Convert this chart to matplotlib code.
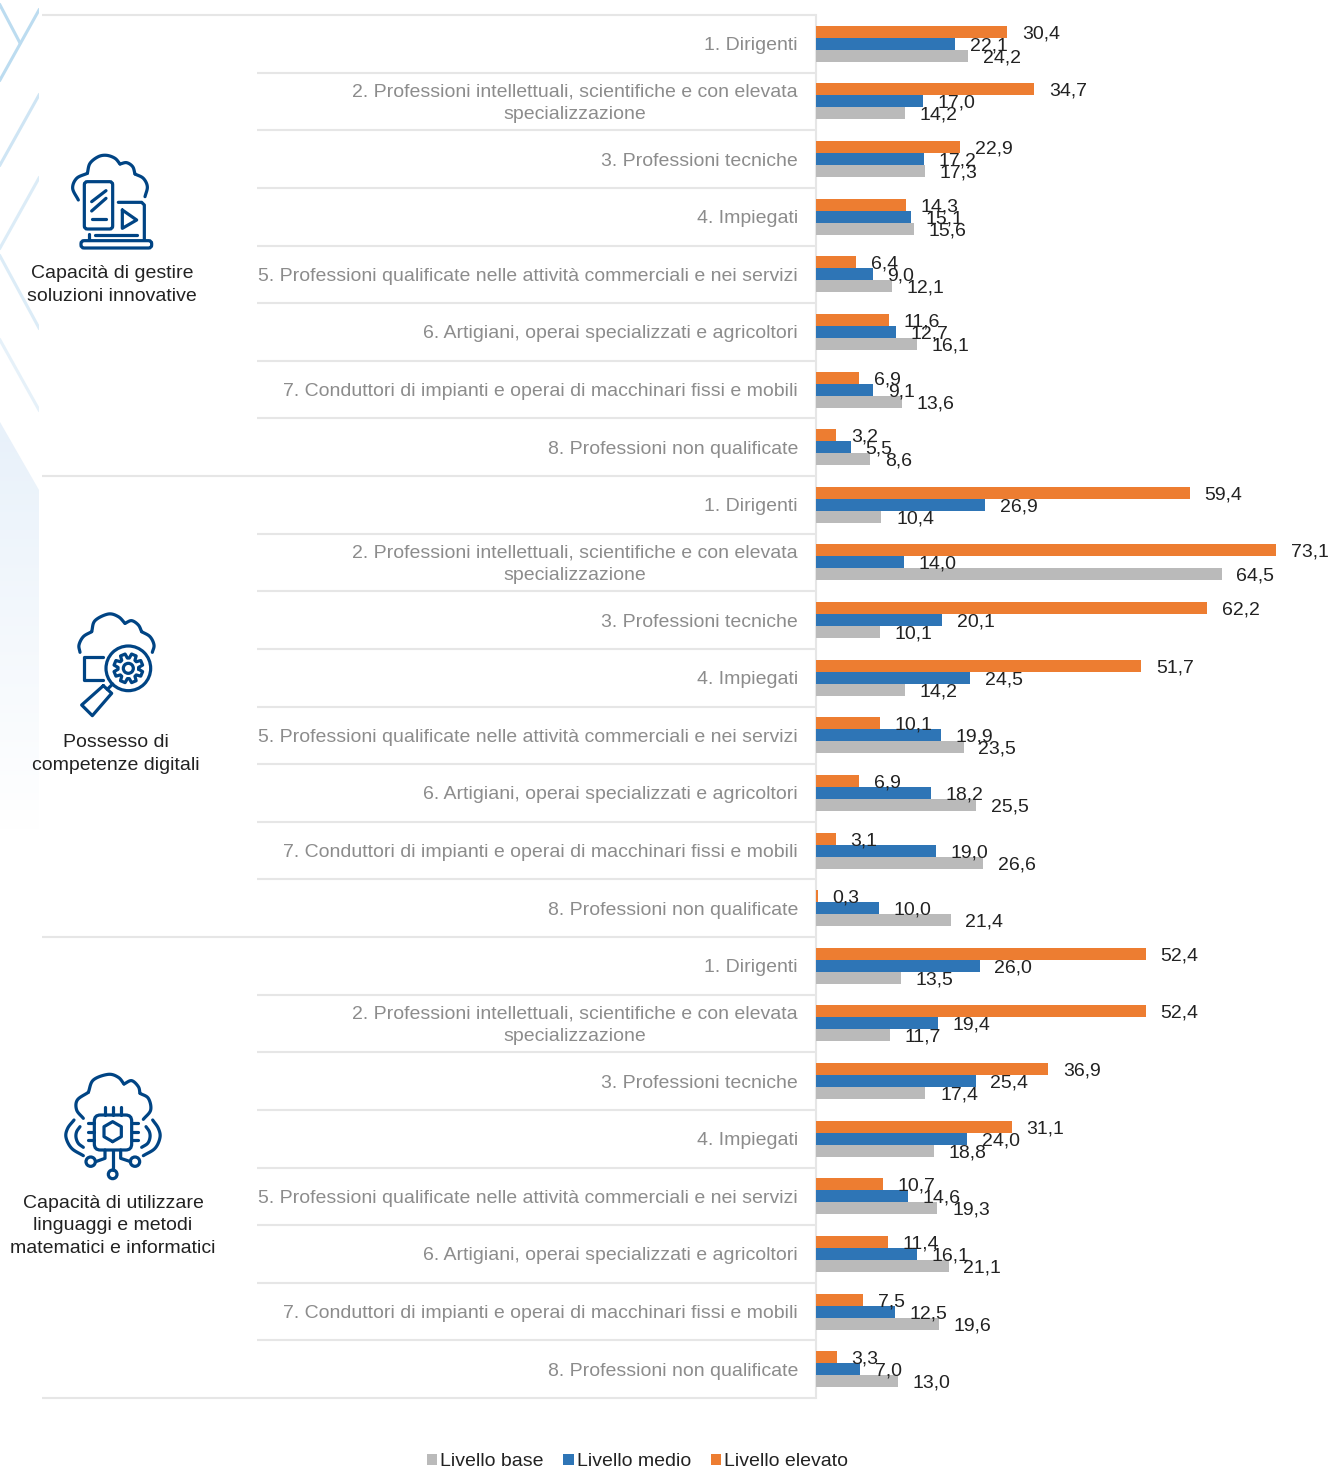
import numpy as np
import matplotlib
matplotlib.use('Agg')
import matplotlib.pyplot as plt
from matplotlib.patches import Circle, FancyBboxPatch, Polygon, Rectangle

plt.rcParams['font.family'] = ['Liberation Sans', 'DejaVu Sans']

jobs = ['1. Dirigenti',
        '2. Professioni intellettuali, scientifiche e con elevata\nspecializzazione',
        '3. Professioni tecniche',
        '4. Impiegati',
        '5. Professioni qualificate nelle attività commerciali e nei servizi',
        '6. Artigiani, operai specializzati e agricoltori',
        '7. Conduttori di impianti e operai di macchinari fissi e mobili',
        '8. Professioni non qualificate']
groups = ['Capacità di gestire\nsoluzioni innovative',
          'Possesso di\ncompetenze digitali',
          'Capacità di utilizzare\nlinguaggi e metodi\nmatematici e informatici']
levels = ['Livello base', 'Livello medio', 'Livello elevato']

elevato = [30.4, 34.7, 22.9, 14.3, 6.4, 11.6, 6.9, 3.2,
           59.4, 73.1, 62.2, 51.7, 10.1, 6.9, 3.1, 0.3,
           52.4, 52.4, 36.9, 31.1, 10.7, 11.4, 7.5, 3.3]
medio = [22.1, 17.0, 17.2, 15.1, 9.0, 12.7, 9.1, 5.5,
         26.9, 14.0, 20.1, 24.5, 19.9, 18.2, 19.0, 10.0,
         26.0, 19.4, 25.4, 24.0, 14.6, 16.1, 12.5, 7.0]
base = [24.2, 14.2, 17.3, 15.6, 12.1, 16.1, 13.6, 8.6,
        10.4, 64.5, 10.1, 14.2, 23.5, 25.5, 26.6, 21.4,
        13.5, 11.7, 17.4, 18.8, 19.3, 21.1, 19.6, 13.0]

ORANGE = '#ed7d31'
BLUE = '#2e75b6'
GREY = '#bababa'
LINE = '#e6e6e6'
ICON = '#004484'
W, H = 1330, 1468
TOP, BOTTOM, ZERO = 15, 1398, 816
PX_PER_UNIT = 6.293
FS = 14.0

fig = plt.figure(figsize=(W / 100, H / 100), dpi=100, facecolor='white')

# pixel overlay for decoration, row lines, icons
bg = fig.add_axes([0, 0, 1, 1], zorder=1)
bg.set_xlim(0, W)
bg.set_ylim(H, 0)
bg.axis('off')

# bars
ax = fig.add_axes([ZERO / W, 1 - BOTTOM / H, (W - ZERO) / W, (BOTTOM - TOP) / H], zorder=2)
ax.patch.set_alpha(0)
ax.set_xlim(0, (W - ZERO) / PX_PER_UNIT)
ax.set_ylim(24, 0)
for s in ax.spines.values():
    s.set_visible(False)
ax.set_xticks([])
ax.set_yticks([])

rows = np.arange(24) + 0.5
bar_h = 12 / 57.625
series = [(base, GREY, bar_h, levels[0]),
          (medio, BLUE, 0, levels[1]),
          (elevato, ORANGE, -bar_h, levels[2])]
handles = {}
for vals, col, off, lab in series:
    bars = ax.barh(rows + off, vals, height=bar_h, color=col, label=lab)
    handles[lab] = bars
    for v, r in zip(vals, rows):
        ax.annotate(f'{v:.1f}'.replace('.', ','), (v, r + off), xytext=(10.5, 0),
                    textcoords='offset points', va='center_baseline', ha='left',
                    fontsize=FS, color='#222222', annotation_clip=False)

# job labels, the two line one sits a little higher
for lab, r in zip(jobs * 3, rows):
    ax.annotate(lab, (0, r), xytext=(-13, 1.8 if '\n' in lab else 0), textcoords='offset points',
                ha='right', va='center_baseline', multialignment='center', linespacing=1.4,
                fontsize=FS, color='#8c8c8c', annotation_clip=False)

# row separators
for i in range(25):
    y = TOP + i * (BOTTOM - TOP) / 24
    x0 = 42 if i % 8 == 0 else 257
    bg.plot([x0, ZERO], [y, y], color=LINE, lw=1.5, solid_capstyle='butt')
bg.plot([ZERO, ZERO], [TOP, BOTTOM], color=LINE, lw=1.5)

# left decoration
clip = Rectangle((0, 0), 39, H, transform=bg.transData)
deco = [((0, 5), (20, 43), '#bcdcf0'), ((39, 10), (0, 80), '#bcdcf0'),
        ((39, 95), (0, 165), '#cfe5f4'), ((39, 178), (0, 248), '#dcecf7'),
        ((0, 256), (39, 328), '#dcecf7'), ((0, 340), (39, 410), '#e6f1f9')]
for a, b, c in deco:
    ln, = bg.plot([a[0], b[0]], [a[1], b[1]], color=c, lw=2.2)
    ln.set_clip_path(clip)
grad = np.linspace(0, 1, 200).reshape(-1, 1)
cmap = matplotlib.colors.LinearSegmentedColormap.from_list('fade', ['#e8f1fa', '#ffffff'])
im = bg.imshow(grad, extent=(0, 39, 830, 422), cmap=cmap, aspect='auto', origin='upper', zorder=0)
im.set_clip_path(Polygon([(0, 422), (39, 490), (39, 830), (0, 830)], transform=bg.transData))
bg.set_xlim(0, W)
bg.set_ylim(H, 0)


def smooth(pts, n=12):
    pts = np.array(pts, dtype=float)
    p = np.vstack([2 * pts[0] - pts[1], pts, 2 * pts[-1] - pts[-2]])
    out = []
    for i in range(1, len(p) - 2):
        for t in np.linspace(0, 1, n, endpoint=False):
            out.append(0.5 * (2 * p[i] + (p[i + 1] - p[i - 1]) * t
                              + (2 * p[i - 1] - 5 * p[i] + 4 * p[i + 1] - p[i + 2]) * t ** 2
                              + (3 * p[i] - p[i - 1] - 3 * p[i + 1] + p[i + 2]) * t ** 3))
    out.append(pts[-1])
    return np.array(out)


def to_px(pts, dy):
    return [(x / 3, y / 3 + dy) for x, y in pts]


def stroke(pts, dy, curved=False, close=False):
    q = to_px(pts, dy)
    if close:
        q = q + [q[0]]
    q = smooth(q) if curved else np.array(q)
    bg.plot(q[:, 0], q[:, 1], color=ICON, lw=2.3, solid_capstyle='round', solid_joinstyle='round')


def ring(x, y, r, dy):
    bg.add_patch(Circle((x / 3, y / 3 + dy), r / 3, fill=False, ec=ICON, lw=2.3))


def round_box(x0, y0, x1, y1, dy, rad=3):
    bg.add_patch(FancyBboxPatch((x0 / 3, y0 / 3 + dy), (x1 - x0) / 3, (y1 - y0) / 3,
                                boxstyle=f'round,pad=0,rounding_size={rad}',
                                fill=False, ec=ICON, lw=2.3))


# icon 1: cloud, phone, laptop
d = 0
stroke([(235, 600), (218, 565), (230, 535), (262, 520)], d, curved=True)
stroke([(262, 520), (270, 490), (295, 470), (320, 466), (345, 475), (360, 492)], d, curved=True)
stroke([(360, 492), (380, 488), (398, 500), (405, 522)], d, curved=True)
stroke([(405, 522), (430, 535), (442, 560), (435, 590)], d, curved=True)
round_box(253, 545, 338, 687, d)
stroke([(275, 605), (318, 572)], d)
stroke([(275, 633), (318, 595)], d)
stroke([(275, 658), (318, 658)], d)
stroke([(355, 607), (425, 607), (433, 615), (433, 720)], d)
stroke([(367, 630), (410, 660), (367, 685), (367, 630)], d)
stroke([(285, 705), (412, 705)], d)
stroke([(268, 703), (268, 720)], d)
round_box(243, 722, 455, 744, d, rad=3)

# icon 2: cloud, magnifier, gear
d = 590
stroke([(240, 187), (237, 165), (250, 140), (275, 125)], d, curved=True)
stroke([(275, 125), (285, 92), (325, 72), (355, 80), (375, 100)], d, curved=True)
stroke([(375, 100), (395, 92), (415, 105), (425, 125)], d, curved=True)
stroke([(425, 125), (450, 140), (462, 165), (457, 187)], d, curved=True)
stroke([(310, 200), (252, 200), (252, 270), (310, 270)], d)
ring(385, 235, 67, d)
ring(385, 235, 15, d)
ang = np.linspace(0, 2 * np.pi, 8, endpoint=False)
gear = []
for a in ang:
    for da, r in [(-0.30, 31), (-0.17, 44), (0.17, 44), (0.30, 31)]:
        gear.append((385 + r * np.cos(a + da + np.pi / 8), 235 + r * np.sin(a + da + np.pi / 8)))
stroke(gear, d, close=True)
stroke([(310, 287), (335, 310), (277, 377), (245, 345), (310, 287)], d)
stroke([(322, 298), (338, 282)], d)

# icon 3: cloud, chip
d = 1060
stroke([(250, 175), (230, 150), (232, 120), (265, 97)], d, curved=True)
stroke([(265, 97), (280, 60), (325, 43), (355, 52), (372, 72)], d, curved=True)
stroke([(372, 72), (395, 62), (415, 80), (420, 100)], d, curved=True)
stroke([(420, 100), (445, 115), (452, 150), (430, 178)], d, curved=True)
round_box(283, 165, 395, 270, d, rad=6)
hexa = [(338 + 30 * np.sin(a), 215 + 30 * np.cos(a)) for a in np.linspace(0, 2 * np.pi, 6, endpoint=False)]
stroke(hexa, d, close=True)
for x in (315, 338, 362):
    stroke([(x, 140), (x, 165)], d)
for y in (190, 215, 240):
    stroke([(265, y), (283, y)], d)
    stroke([(395, y), (413, y)], d)
stroke([(222, 180), (203, 205), (198, 232), (215, 265), (250, 287)], d, curved=True)
stroke([(240, 200), (230, 215), (228, 232), (235, 250), (250, 262)], d, curved=True)
stroke([(458, 180), (475, 205), (480, 232), (465, 265), (430, 287)], d, curved=True)
stroke([(438, 200), (448, 215), (450, 232), (443, 250), (425, 262)], d, curved=True)
stroke([(338, 270), (338, 330)], d)
stroke([(315, 270), (315, 295), (287, 305)], d)
stroke([(362, 270), (362, 295), (392, 305)], d)
ring(272, 305, 14, d)
ring(405, 305, 14, d)
ring(338, 343, 13, d)

# group captions
for txt, x, y in zip(groups, (112, 116, 113), (285, 754, 1226)):
    bg.text(x, y, txt, ha='center', va='center', fontsize=FS, color='#222222', linespacing=1.44)

# legend
leg = fig.legend([handles[k] for k in levels], levels, loc='center', ncol=3,
                 bbox_to_anchor=(637.5 / W, 1 - 1462 / H), frameon=False, fontsize=FS,
                 handlelength=0.55, handleheight=0.55, handletextpad=0.15, columnspacing=1.0,
                 labelcolor='#222222', borderpad=0)

fig.savefig('out.png', dpi=100)
